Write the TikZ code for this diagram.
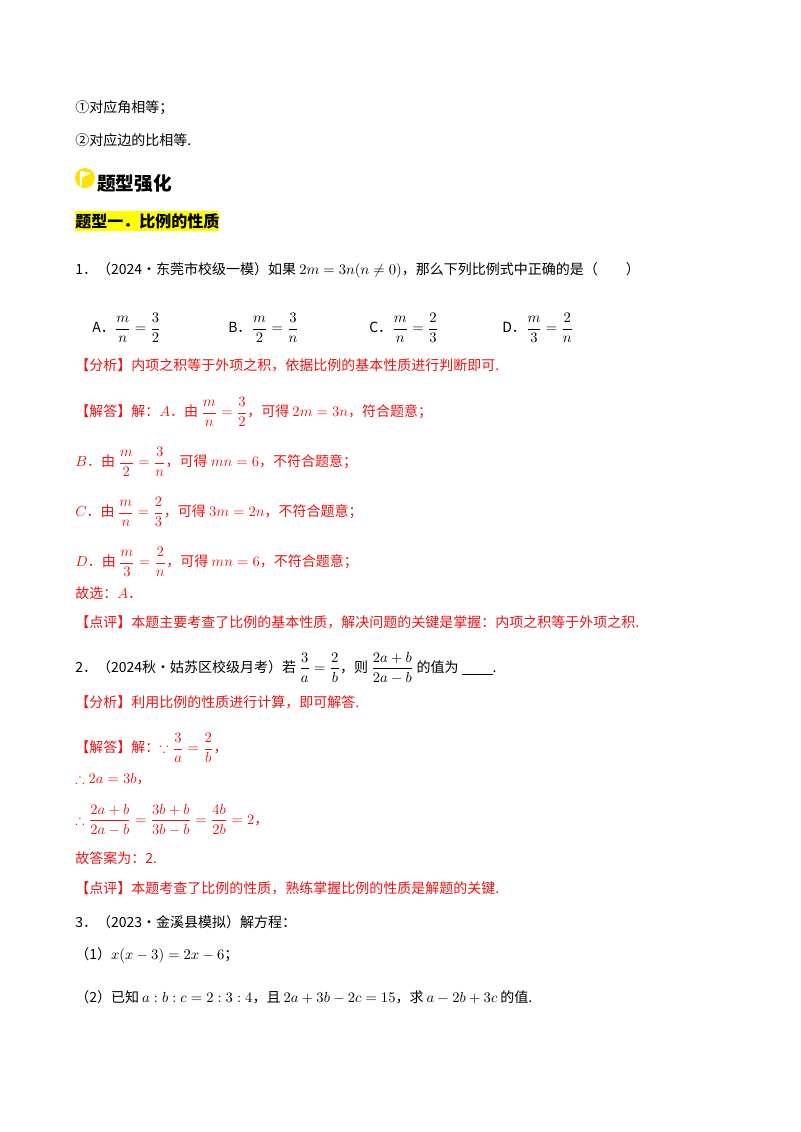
\documentclass[tikz,border=0pt]{standalone}
\usepackage{amsmath,amssymb}
\usepackage{fontspec}
\setmainfont{Noto Sans CJK SC}
\definecolor{ans}{RGB}{235,20,20}
\definecolor{hl}{RGB}{255,255,0}
\begin{document}
\begin{tikzpicture}[x=0.75pt,y=-0.75pt,
  t/.style={anchor=west,inner sep=0pt,font=\fontsize{10.5}{13}\selectfont},
  r/.style={t,text=ans}]
\useasboundingbox (0,0) rectangle (800,1132);
\fill[white] (0,0) rectangle (800,1132);
\node[t] (l1) at (75,108) {①对应角相等；};
\node[t] (l2) at (75,140) {②对应边的比相等.};
\fill[yellow!85!orange] (85,178) circle (10);
\draw[white,line width=1pt] (81,186) -- (81,171);
\fill[white] (81,171) -- (91,173) -- (81,178) -- cycle;
\node[t,font=\fontsize{14}{16}\selectfont\bfseries] (h1) at (97,183) {题型强化};
\node[t,fill=hl,inner ysep=2pt,font=\fontsize{12}{14}\selectfont\bfseries] (h2) at (75,221) {题型一．比例的性质};
\node[t] (q1) at (75,270) {1．（2024•东莞市校级一模）如果 $2m=3n(n\neq0)$，那么下列比例式中正确的是（\qquad）};
\node[t] (a) at (92,328) {A．$\dfrac{m}{n}=\dfrac{3}{2}$};
\node[t] (b) at (228,328) {B．$\dfrac{m}{2}=\dfrac{3}{n}$};
\node[t] (c) at (369,328) {C．$\dfrac{m}{n}=\dfrac{2}{3}$};
\node[t] (d) at (502,328) {D．$\dfrac{m}{3}=\dfrac{2}{n}$};
\node[r] (f1) at (75,365) {【分析】内项之积等于外项之积，依据比例的基本性质进行判断即可.};
\node[r] (s1) at (75,412) {【解答】解：$A$．由 $\dfrac{m}{n}=\dfrac{3}{2}$，可得 $2m=3n$，符合题意；};
\node[r] (s2) at (75,462) {$B$．由 $\dfrac{m}{2}=\dfrac{3}{n}$，可得 $mn=6$，不符合题意；};
\node[r] (s3) at (75,512) {$C$．由 $\dfrac{m}{n}=\dfrac{2}{3}$，可得 $3m=2n$，不符合题意；};
\node[r] (s4) at (75,562) {$D$．由 $\dfrac{m}{3}=\dfrac{2}{n}$，可得 $mn=6$，不符合题意；};
\node[r] (s5) at (75,593) {故选：$A$．};
\node[r] (p1) at (75,622) {【点评】本题主要考查了比例的基本性质，解决问题的关键是掌握：内项之积等于外项之积.};
\node[t] (q2) at (75,668) {2．（2024秋•姑苏区校级月考）若 $\dfrac{3}{a}=\dfrac{2}{b}$，则 $\dfrac{2a+b}{2a-b}$ 的值为 \underline{\hspace{2.2em}}.};
\node[r] (f2) at (75,702) {【分析】利用比例的性质进行计算，即可解答.};
\node[r] (s6) at (75,748) {【解答】解：$\because\dfrac{3}{a}=\dfrac{2}{b}$，};
\node[r] (s7) at (75,779) {$\therefore 2a=3b$，};
\node[r] (s8) at (75,820) {$\therefore\dfrac{2a+b}{2a-b}=\dfrac{3b+b}{3b-b}=\dfrac{4b}{2b}=2$，};
\node[r] (s9) at (75,858) {故答案为：2.};
\node[r] (p2) at (75,888) {【点评】本题考查了比例的性质，熟练掌握比例的性质是解题的关键.};
\node[t] (q3) at (75,922) {3．（2023•金溪县模拟）解方程：};
\node[t] (q31) at (75,955) {（1）$x(x-3)=2x-6$；};
\node[t] (q32) at (75,997) {（2）已知 $a:b:c=2:3:4$，且 $2a+3b-2c=15$，求 $a-2b+3c$ 的值.};
\end{tikzpicture}
\end{document}
